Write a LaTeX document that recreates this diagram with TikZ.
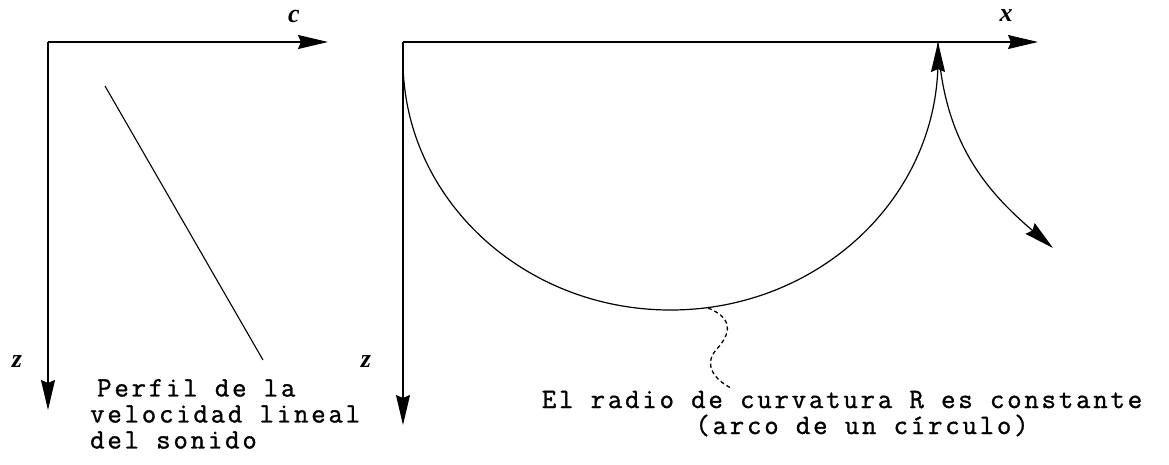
\documentclass[tikz,border=0pt]{standalone}
\usepackage{fontspec}
\setmainfont{Liberation Serif}
\setmonofont{Latin Modern Mono}[LetterSpace=10, FakeBold=1.2]
\usetikzlibrary{arrows.meta, positioning}

\begin{document}
\begin{tikzpicture}[x=1pt, y=-1pt,
    axis/.style={line width=1.3pt, -{Stealth[length=30pt, width=14pt, inset=3pt]}},
    ray/.style={line width=1.2pt, -{Stealth[length=30pt, width=14pt, inset=3pt]}},
    lbl/.style={font=\fontsize{26}{26}\selectfont\bfseries\itshape, inner sep=0pt},
    txt/.style={font=\fontsize{28}{26}\selectfont\ttfamily, inner sep=0pt}
]
\useasboundingbox (0,0) rectangle (1169,464);

% velocity profile
\coordinate (o1) at (48,42);
\coordinate (c1) at (328,42);
\coordinate (z1) at (48,410);
\draw[axis] (o1) -- (c1);
\draw[axis] (o1) -- (z1);
\node[lbl] (clbl) at (294,16) {c};
\node[lbl] (zlbl1) at (17,362) {z};
\coordinate (p1) at (105,86);
\coordinate (p2) at (263,360);
\draw[line width=1.1pt] (p1) -- (p2);
\node[txt, anchor=north west, align=left] (perfil) at (90,379)
    {\hspace*{7pt}Perfil de la\\velocidad lineal\\del sonido};

% ray path
\coordinate (o2) at (403,42);
\coordinate (x2) at (1038,42);
\coordinate (z2) at (403,425);
\draw[axis] (o2) -- (x2);
\draw[axis] (o2) -- (z2);
\node[lbl] (xlbl) at (1006,16) {x};
\node[lbl] (zlbl2) at (366,362) {z};
\coordinate (a0) at (403,60);
\coordinate (top) at (938,42);
\coordinate (out) at (1053,248);
\draw[ray] (a0) arc[start angle=180, end angle=0, x radius=267.5, y radius=250] -- (top);
\draw[ray] (top) .. controls (943,140) and (985,190) .. (out);

% note
\coordinate (w0) at (708,308);
\coordinate (w1) at (716,350);
\coordinate (w2) at (731,388);
\draw[line width=1.3pt, dash pattern=on 4pt off 3pt]
    (w0) .. controls (738,320) and (727,338) .. (w1)
         .. controls (703,365) and (715,380) .. (w2);
\node[txt, anchor=base] (radio) at (842,408) {El radio de curvatura R es constante};
\node[txt, anchor=base] (arco) at (862,434) {(arco de un círculo)};
\end{tikzpicture}
\end{document}
